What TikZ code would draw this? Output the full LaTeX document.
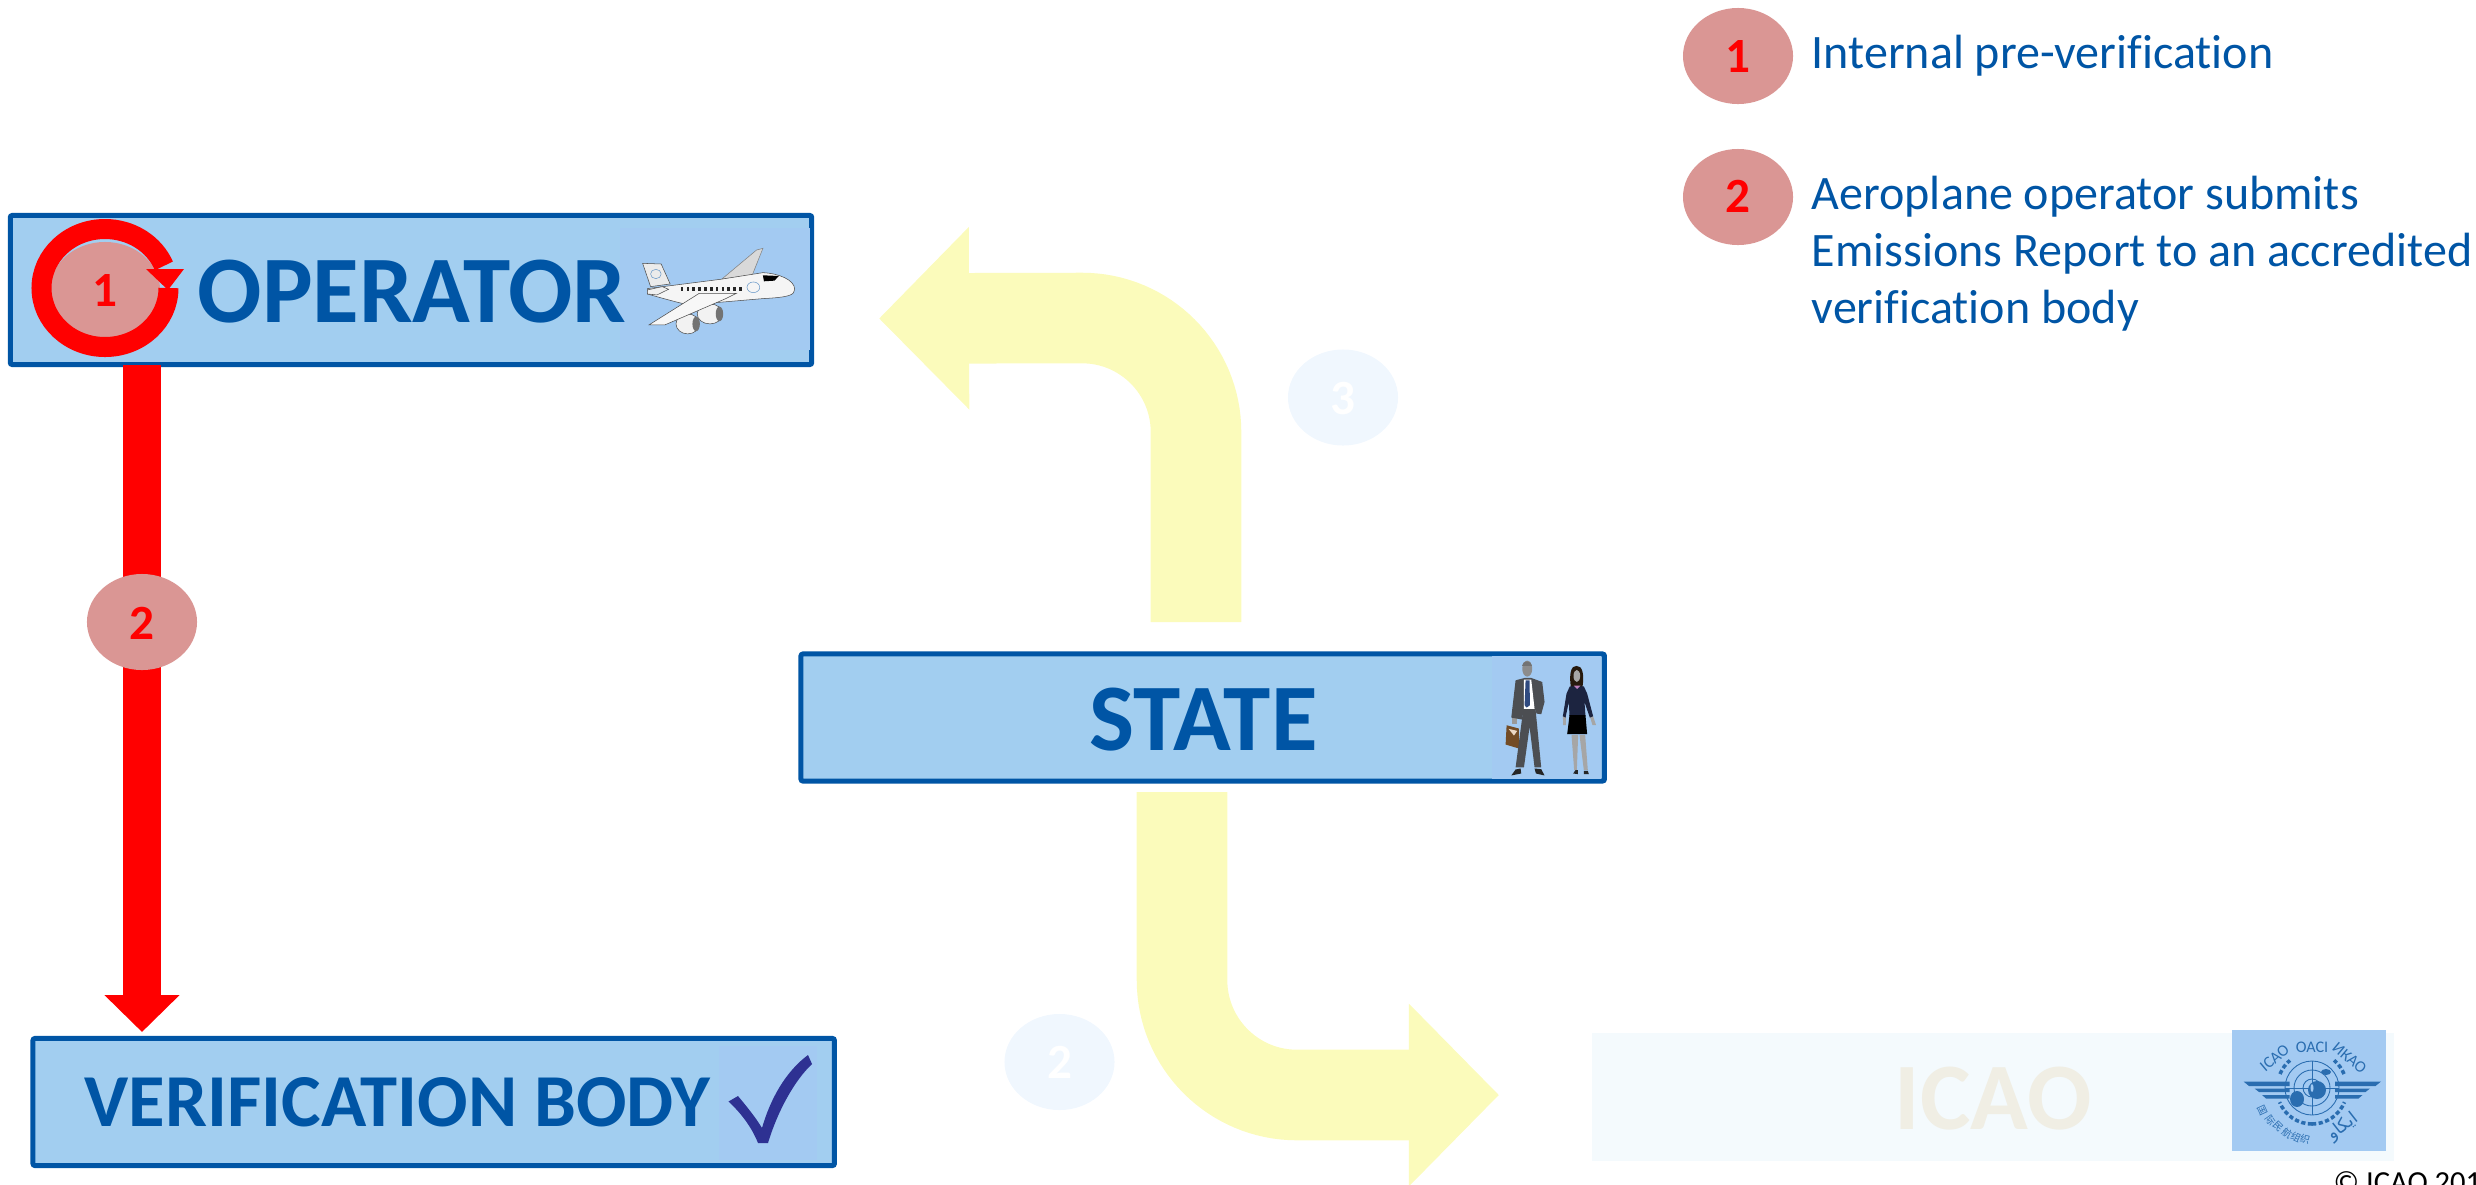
\documentclass[tikz,border=0pt]{standalone}
\usepackage{fontspec}
\setmainfont{Carlito}[Ligatures=NoCommon]
\newfontfamily\cjkfont{Noto Sans CJK SC}
\newfontfamily\arabicfont[Script=Arabic]{DejaVu Sans}
\newfontfamily\arialfont{Liberation Sans}
\TeXXeTstate=1
\usetikzlibrary{arrows.meta,shapes.geometric}
\definecolor{boxblue}{HTML}{A2CEF0}
\definecolor{patchblue}{HTML}{A3CAF2}
\definecolor{edgeblue}{HTML}{0055A5}
\definecolor{pink}{HTML}{DA9694}
\definecolor{paleyellow}{HTML}{FBFBBB}
\definecolor{palebadge}{HTML}{F0F7FE}
\definecolor{icaofill}{HTML}{F4FAFD}
\definecolor{icaotext}{HTML}{F0EEE4}
\definecolor{emblue}{HTML}{2A6DB0}
\definecolor{checkblue}{HTML}{2E3192}
\definecolor{suitgray}{HTML}{4C4E52}
\definecolor{navysuit}{HTML}{1C2440}
\definecolor{tieblue}{HTML}{2F4A80}
\tikzset{
  titlebox/.style={draw=edgeblue,fill=boxblue,line width=0.05cm,rounded corners=0.02cm,inner sep=0pt},
  patchbox/.style={fill=patchblue,draw=none,inner sep=0pt},
  title/.style={anchor=base west,inner sep=0pt,text=edgeblue,font=\fontsize{27.1}{28}\selectfont\bfseries},
  badge/.style={ellipse,fill=pink,draw=none,minimum width=1.10cm,minimum height=0.96cm,inner sep=0pt},
  digit/.style={anchor=base,inner sep=0pt,text=red,font=\fontsize{14}{14}\selectfont\bfseries},
  legend/.style={anchor=base west,inner sep=0pt,text=edgeblue,font=\fontsize{13.66}{14}\selectfont},
  redarrow/.style={draw=red,line width=0.375cm,-{Triangle[length=0.37cm,width=0.73cm]}},
  yellowarrow/.style={draw=paleyellow,line width=0.905cm,-{Triangle[length=0.90cm,width=1.77cm]}},
  part/.style={line width=0.15pt},
  emtext/.style={inner sep=0pt,text=emblue,font=\fontsize{4.6}{5}\selectfont},
  emcjk/.style={inner sep=0pt,text=emblue,font=\cjkfont\fontsize{2.8}{3}\selectfont},
}
\begin{document}
\begin{tikzpicture}[x=0.01cm,y=-0.01cm]
\clip (0,0) rectangle (2476,1184);
% yellow arrows
\coordinate (upS) at (1196,622);
\coordinate (upT) at (879,318.5);
\draw[yellowarrow] (upS) -- (1196,432) arc (0:-90:114) -- (upT);
\coordinate (loS) at (1182,792);
\coordinate (loT) at (1499,1095);
\draw[yellowarrow] (loS) -- (1182,980) arc (180:90:115) -- (loT);
% boxes
\node[titlebox,minimum width=8.01cm,minimum height=1.49cm] (opbox) at (411,290) {};
\node[patchbox,minimum width=1.90cm,minimum height=1.22cm] (oppatch) at (715,289) {};
\node[titlebox,minimum width=8.01cm,minimum height=1.27cm] (vbbox) at (433.7,1102) {};
\node[patchbox,minimum width=0.98cm,minimum height=1.14cm] (vbpatch) at (768,1103) {};
\node[titlebox,minimum width=8.03cm,minimum height=1.27cm] (stbox) at (1202.7,717.5) {};
\node[patchbox,minimum width=1.09cm,minimum height=1.23cm] (stpatch) at (1546.5,717.5) {};
\node[fill=icaofill,draw=none,inner sep=0pt,minimum width=8.02cm,minimum height=1.28cm] (icbox) at (1993,1097) {};
\node[fill=patchblue,draw=none,inner sep=0pt,minimum width=1.535cm,minimum height=1.21cm] (icpatch) at (2309,1090.5) {};
% titles
\node[title] (optext) at (197,322) {OPERATOR};
\node[title,font=\fontsize{21.25}{22}\selectfont\bfseries] (vbtext) at (84,1126) {VERIFICATION BODY};
\node[title] (sttext) at (1089,750) {STATE};
\node[title,text=icaotext] (ictext) at (1894,1129) {ICAO};
% red arrow
\coordinate (rS) at (142,365);
\coordinate (rT) at (142,1032);
\draw[redarrow] (rS) -- (rT);
\node[badge] (b2) at (142,622) {};
\node[digit] (b2t) at (142,639) {2};
% circular arrow
\node[badge] (b1) at (105,290) {};
\node[digit] (b1t) at (105,306) {1};
\draw[red,line width=0.2cm] (168.5,288) arc (0:338:63.5 and 59);
\fill[red] (146,269) -- (184,269) -- (168,290) -- cycle;
% faded badges
\node[badge,fill=palebadge] (f3) at (1343,397.5) {};
\node[digit,text=white] (f3t) at (1343,414) {3};
\node[badge,fill=palebadge] (f2) at (1059.5,1062) {};
\node[digit,text=white] (f2t) at (1059.5,1078) {2};
% legend
\node[badge] (l1) at (1738,56) {};
\node[digit] (l1t) at (1738,72) {1};
\node[badge] (l2) at (1738,197) {};
\node[digit] (l2t) at (1738,212.5) {2};
\node[legend] (l1x) at (1811,68) {Internal pre-verification};
\node[legend] (l2a) at (1811,209) {Aeroplane operator submits};
\node[legend] (l2b) at (1811,266) {Emissions Report to an accredited};
\node[legend] (l2c) at (1811,323) {verification body};
% footer
\node[anchor=base west,inner sep=0pt,font=\fontsize{8.7}{9}\selectfont] (copy) at (2333,1192) {© ICAO 2019};
\node[anchor=base east,inner sep=0pt,font=\arialfont\fontsize{8.5}{9}\selectfont] (num) at (7,1196) {1};
% check mark
\fill[checkblue] (728.5,1101.5) -- (738,1096) .. controls (748,1108) and (756,1118) .. (762,1128) .. controls (770,1100) and (785,1072) .. (808,1055) -- (812,1064) .. controls (795,1080) and (778,1110) .. (768,1143) -- (758,1143) .. controls (752,1128) and (742,1114) .. cycle;
% aeroplane (zoom units: x/1.889, 190+y/3)
\begin{scope}[x=0.005294cm,y=-0.003333cm,yshift=-1.9cm]
  \fill[draw=black!70,part,fill=black!8] (1213,220) -- (1248,222) -- (1265,282) -- (1228,290) -- cycle;
  \fill[draw=black!50,part,fill=black!15] (1362,268) -- (1428,180) -- (1440,175) -- (1420,255) -- cycle;
  \fill[draw=black!70,part,fill=black!5] (1340,372) ellipse (24 and 30);
  \fill[black!55] (1358,372) ellipse (7 and 22);
  \fill[draw=black!70,part,fill=black!5] (1298,402) ellipse (22 and 30);
  \fill[black!55] (1314,402) ellipse (7 and 22);
  \fill[draw=black!70,part,fill=black!4] (1222,296) -- (1360,268) -- (1440,248) .. controls (1470,250) and (1500,270) .. (1500,298) .. controls (1500,315) and (1490,322) .. (1440,326) -- (1300,345) .. controls (1280,338) and (1250,325) .. (1222,312) -- cycle;
  \fill[draw=black!70,part,fill=black!3] (1320,310) -- (1390,310) -- (1370,326) -- (1255,405) -- (1225,405) -- cycle;
  \fill[draw=black!70,part,fill=black!6] (1222,300) -- (1250,290) -- (1262,298) -- (1240,315) -- (1222,312) -- cycle;
  \foreach \wx in {1285,1296,...,1405} \fill[black!85] (\wx,290) rectangle ++(5,14);
  \fill[black] (1440,256) -- (1470,258) -- (1462,272) -- (1442,274) -- cycle;
  \draw[emblue!70,part] (1238,252) ellipse (10 and 14);
  \draw[emblue!70,part] (1422,292) ellipse (12 and 16);
\end{scope}
% people (zoom units: 1380+x/3, 630+y/3)
\begin{scope}[x=0.003333cm,y=-0.003333cm,xshift=13.8cm,yshift=-6.3cm]
  \fill[black!40] (395,262) rectangle (410,282);
  \fill[brown!60!black] (378,285) -- (415,295) -- (415,355) -- (375,343) -- cycle;
  \fill[white!70!brown] (384,296) -- (410,302) -- (400,316) -- (392,306) -- cycle;
  \fill[suitgray] (428,238) -- (465,238) -- (482,412) -- (462,412) -- (447,290) -- (430,412) -- (405,412) -- cycle;
  \fill[suitgray] (405,150) -- (432,143) -- (452,143) -- (485,155) -- (492,215) -- (482,252) -- (468,250) -- (465,240) -- (428,240) -- (425,268) -- (392,262) -- cycle;
  \fill[white] (430,148) -- (452,148) -- (462,236) -- (430,236) -- cycle;
  \fill[tieblue] (435,150) -- (447,150) -- (448,225) -- (438,232) -- (432,225) -- cycle;
  \fill[black!45] (440,115) ellipse (15 and 24);
  \fill[black!55] (425,108) .. controls (425,88) and (455,88) .. (455,108) -- cycle;
  \fill[black!85] (392,436) -- (405,418) -- (420,415) -- (422,430) -- cycle;
  \fill[black!85] (462,415) -- (482,417) -- (492,436) -- (466,430) -- cycle;
  \fill[black!80!brown] (571,170) .. controls (565,130) and (572,105) .. (588,107) .. controls (605,105) and (612,130) .. (606,170) -- cycle;
  \fill[gray!70] (589,137) ellipse (10 and 18);
  \fill[gray!70] (547,255) -- (556,255) -- (556,285) -- (548,285) -- cycle;
  \fill[gray!70] (628,258) -- (638,258) -- (647,285) -- (636,285) -- cycle;
  \fill[navysuit] (568,168) -- (610,168) -- (620,190) -- (638,258) -- (628,262) -- (612,215) -- (615,258) -- (567,258) -- (565,215) -- (555,262) -- (547,258) -- (558,190) -- cycle;
  \fill[violet!50] (580,166) -- (600,166) -- (590,176) -- cycle;
  \fill[black] (567,255) -- (615,255) -- (620,312) -- (560,312) -- cycle;
  \fill[black!35] (573,314) -- (593,314) -- (589,420) -- (581,420) -- cycle;
  \fill[black!35] (597,314) -- (614,314) -- (622,420) -- (610,420) -- cycle;
  \fill[black!85] (578,430) -- (585,420) -- (592,420) -- (592,432) -- cycle;
  \fill[black!85] (610,422) -- (622,422) -- (625,432) -- (610,432) -- cycle;
\end{scope}
% ICAO emblem
\begin{scope}[emblue]
  \foreach \r in {27,18,9} \draw[line width=0.25pt] (2312,1088) circle (\r);
  \draw[line width=0.25pt] (2312,1061) -- (2312,1115) (2285,1088) -- (2339,1088);
  \fill (2317,1090) ellipse (9 and 9);
  \fill (2297,1099) ellipse (7 and 8);
  \fill (2326,1072) ellipse (5 and 3);
  \fill[patchblue] (2312,1088) ellipse (1.5 and 4);
  \fill (2243.5,1081.5) -- (2289.5,1081.5) -- (2289.5,1086) -- (2249,1086) -- cycle;
  \fill (2254.5,1088.5) -- (2289.5,1088.5) -- (2289.5,1092) -- (2259,1092) -- cycle;
  \fill (2262,1095) -- (2289.5,1095) -- (2289.5,1098.5) -- (2266,1098.5) -- cycle;
  \fill (2381,1081.5) -- (2335,1081.5) -- (2335,1086) -- (2375.5,1086) -- cycle;
  \fill (2370,1088.5) -- (2335,1088.5) -- (2335,1092) -- (2365.5,1092) -- cycle;
  \fill (2362.5,1095) -- (2335,1095) -- (2335,1098.5) -- (2358.5,1098.5) -- cycle;
  \draw[line width=1pt,dash pattern=on 1.2pt off 0.7pt] (2312,1124) arc (90:158:35);
  \draw[line width=1pt,dash pattern=on 1.2pt off 0.7pt] (2312,1124) arc (90:22:35);
  \draw[line width=1pt,dash pattern=on 1.2pt off 0.7pt] (2280,1074) arc (-158:-130:35);
  \draw[line width=1pt,dash pattern=on 1.2pt off 0.7pt] (2344,1074) arc (-22:-50:35);
\end{scope}
\node[emtext,rotate=40] (emA) at (2274.5,1058) {ICAO};
\node[emtext] (emB) at (2312,1047) {OACI};
\node[emtext,rotate=-40] (emC) at (2349.5,1058) {ИКАО};
\node[emcjk,rotate=-65] (emD) at (2262,1110) {国};
\node[emcjk,rotate=-55] (emE) at (2270,1120) {际};
\node[emcjk,rotate=-45] (emF) at (2278,1127) {民};
\node[emcjk,rotate=-35] (emG) at (2287,1133) {航};
\node[emcjk,rotate=-25] (emH) at (2296,1137) {组};
\node[emcjk,rotate=-15] (emI) at (2305,1139) {织};
\node[emtext,font=\arabicfont\fontsize{5}{5}\selectfont,rotate=38] (emJ) at (2343,1127) {\beginR ايكاو\endR};
\end{tikzpicture}
\end{document}
